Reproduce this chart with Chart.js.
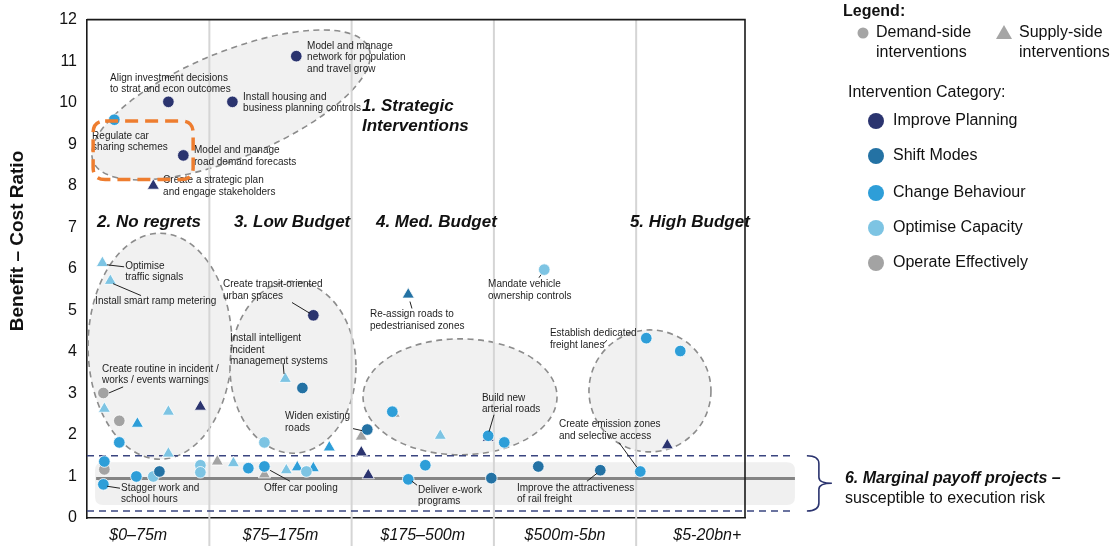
<!DOCTYPE html>
<html>
<head>
<meta charset="utf-8">
<script src="https://cdn.jsdelivr.net/npm/chart.js@4/dist/chart.umd.min.js"></script>
<style>
html,body{margin:0;padding:0;background:#fff;}
#wrap{width:1115px;height:546px;position:relative;}
</style>
</head>
<body>
<div id="wrap"><canvas id="c" width="1115" height="546"></canvas></div>
<script>
// ---------- DATA ----------
const costBuckets = ['$0–75m', '$75–175m', '$175–500m', '$500m-5bn', '$5-20bn+'];
const bucketCentres = [0.5, 1.5, 2.5, 3.5, 4.5];
const yTicks = [0,1,2,3,4,5,6,7,8,9,10,11,12];
const categories = ['Improve Planning', 'Shift Modes', 'Change Behaviour', 'Optimise Capacity', 'Operate Effectively'];

// [cost position, benefit-cost ratio]
const planningDemand = [[0.712,10.02],[1.162,10.02],[1.611,11.12],[0.817,8.73],[1.731,4.88]];
const planningSupply = [[0.606,8.0],[0.937,2.68],[2.068,1.58],[2.117,1.03],[2.96,1.93],[4.219,1.75]];
const shiftDemand = [[0.649,1.12],[1.654,3.13],[2.11,2.13],[2.982,0.96],[3.312,1.24],[3.748,1.15]];
const shiftSupply = [[2.398,5.38]];
const behaviourDemand = [[0.332,9.59],[0.367,1.82],[0.262,1.36],[0.255,0.81],[0.487,1.0],[1.274,1.2],[1.387,1.24],[2.286,2.56],[2.96,1.98],[3.073,1.82],[2.518,1.27],[2.398,0.93],[4.029,1.12],[4.071,4.33],[4.31,4.02]];
const behaviourSupply = [[0.494,2.27],[1.843,1.70],[1.618,1.22],[1.731,1.2]];
const capacityDemand = [[0.606,1.0],[0.937,1.27],[0.937,1.1],[1.387,1.82],[1.682,1.12],[3.354,5.98]];
const capacitySupply = [[0.248,6.14],[0.304,5.71],[0.262,2.63],[0.712,2.56],[0.712,1.55],[1.534,3.35],[1.169,1.32],[1.541,1.15],[2.623,1.98]];
const operateDemand = [[0.255,3.01],[0.367,2.34],[0.262,1.17]];
const operateSupply = [[1.056,1.36],[1.387,1.05],[2.068,1.96],[2.30,2.51]];

const baselineRatio = 0.95;
const marginalUpper = 1.5;
const marginalLower = 0.17;

// ---------- STYLE ----------
const FONT = "'Liberation Sans', Arial, Helvetica, sans-serif";
const catColors = ['#2B346F', '#2472A4', '#2E9ED8', '#7DC4E3', '#A3A3A3'];
const TXT = '#1e1e1e';

const demandSets = [planningDemand, shiftDemand, behaviourDemand, capacityDemand, operateDemand];
const supplySets = [planningSupply, shiftSupply, behaviourSupply, capacitySupply, operateSupply];

const datasets = [];
categories.forEach((c, i) => {
  datasets.push({
    label: c + ' (demand)',
    data: demandSets[i].map(p => ({x: p[0], y: p[1]})),
    pointStyle: 'circle', pointRadius: 5.8, pointBackgroundColor: catColors[i],
    pointBorderColor: '#ffffff', pointBorderWidth: 0.8, order: 1
  });
  datasets.push({
    label: c + ' (supply)',
    data: supplySets[i].map(p => ({x: p[0], y: p[1]})),
    pointStyle: 'triangle', pointRadius: 7, pointBackgroundColor: catColors[i],
    pointBorderColor: '#ffffff', pointBorderWidth: 0.8, order: 2
  });
});

// ---------- ANNOTATIONS (data coordinates) ----------
const ellipses = [
  {cx: 1.1525, cy: 9.945, rx: 149, ry: 53, rot: -22.4},
  {cx: 0.6535, cy: 4.136, rx: 72, ry: 113, rot: 0},
  {cx: 1.588, cy: 3.63, rx: 63, ry: 86, rot: 0},
  {cx: 2.762, cy: 2.917, rx: 97, ry: 58, rot: 0},
  {cx: 4.097, cy: 3.06, rx: 61, ry: 61, rot: 0}
];
const notes = [
  {x: 0.302, y: 10.59, t: ['Align investment decisions', 'to strat and econ outcomes']},
  {x: 1.687, y: 11.36, t: ['Model and manage', 'network for population', 'and travel grow']},
  {x: 1.237, y: 10.14, t: ['Install housing and', 'business planning controls']},
  {x: 0.176, y: 9.20, t: ['Regulate car', 'sharing schemes']},
  {x: 0.892, y: 8.845, t: ['Model and manage', 'road demand forecasts']},
  {x: 0.675, y: 8.128, t: ['Create a strategic plan', 'and engage stakeholders']},
  {x: 0.408, y: 6.072, t: ['Optimise', 'traffic signals']},
  {x: 0.197, y: 5.21, t: ['Install smart ramp metering']},
  {x: 0.246, y: 3.586, t: ['Create routine in incident /', 'works / events warnings']},
  {x: 0.379, y: 0.717, t: ['Stagger work and', 'school hours']},
  {x: 1.096, y: 5.618, t: ['Create transit-oriented', 'urban spaces']},
  {x: 1.145, y: 4.327, t: ['Install intelligent', 'incident', 'management systems']},
  {x: 1.532, y: 2.438, t: ['Widen existing', 'roads']},
  {x: 1.384, y: 0.717, t: ['Offer car pooling']},
  {x: 2.129, y: 4.90, t: ['Re-assign roads to', 'pedestrianised zones']},
  {x: 2.959, y: 5.618, t: ['Mandate vehicle', 'ownership controls']},
  {x: 3.394, y: 4.447, t: ['Establish dedicated', 'freight lanes']},
  {x: 2.916, y: 2.893, t: ['Build new', 'arterial roads']},
  {x: 2.467, y: 0.669, t: ['Deliver e-work', 'programs']},
  {x: 3.162, y: 0.717, t: ['Improve the attractiveness', 'of rail freight']},
  {x: 3.457, y: 2.247, t: ['Create emission zones', 'and selective access']}
];
const leaders = [
  [0.281,6.096,0.401,6.048],[0.323,5.642,0.520,5.355],[0.295,3.012,0.394,3.156],
  [0.281,0.765,0.372,0.717],[1.581,5.188,1.708,4.925],[1.518,3.729,1.525,3.466],
  [2.010,2.152,2.073,2.104],[1.427,1.148,1.567,0.885],[2.410,5.212,2.424,5.044],
  [3.331,5.857,3.317,5.785],[3.767,4.184,3.795,4.279],[3.001,2.486,2.966,2.080],
  [2.424,0.885,2.460,0.789],[3.654,0.885,3.725,1.076],[3.879,1.817,4.006,1.219]
];
const groupLabels = [
  {x: 2.073, y: 9.921, t: '1. Strategic'},
  {x: 2.073, y: 9.419, t: 'Interventions'},
  {x: 0.211, y: 7.124, t: '2. No regrets'},
  {x: 1.174, y: 7.124, t: '3. Low Budget'},
  {x: 2.171, y: 7.124, t: '4. Med. Budget'},
  {x: 3.956, y: 7.124, t: '5. High Budget'}
];

function roundRect(ctx, x, y, w, h, r) {
  ctx.beginPath();
  ctx.moveTo(x + r, y);
  ctx.lineTo(x + w - r, y); ctx.quadraticCurveTo(x + w, y, x + w, y + r);
  ctx.lineTo(x + w, y + h - r); ctx.quadraticCurveTo(x + w, y + h, x + w - r, y + h);
  ctx.lineTo(x + r, y + h); ctx.quadraticCurveTo(x, y + h, x, y + h - r);
  ctx.lineTo(x, y + r); ctx.quadraticCurveTo(x, y, x + r, y);
  ctx.closePath();
}

const deco = {
  id: 'deco',
  beforeDatasetsDraw(chart) {
    const {ctx, scales: {x, y}, chartArea: ca} = chart;
    const X = v => x.getPixelForValue(v), Y = v => y.getPixelForValue(v);
    ctx.save();
    // marginal band
    ctx.fillStyle = '#f0f0f0';
    roundRect(ctx, X(0.197), Y(1.34), X(5.116) - X(0.197), Y(0.31) - Y(1.34), 8);
    ctx.fill();
    // ellipses
    ellipses.forEach(e => {
      ctx.beginPath();
      ctx.ellipse(X(e.cx), Y(e.cy), e.rx, e.ry, e.rot * Math.PI / 180, 0, Math.PI * 2);
      ctx.fillStyle = '#f1f1f1';
      ctx.fill();
      ctx.setLineDash([6, 4.5]);
      ctx.strokeStyle = '#8c8c8c';
      ctx.lineWidth = 1.6;
      ctx.stroke();
    });
    ctx.setLineDash([]);
    // bucket separators
    ctx.strokeStyle = '#d5d5d5';
    ctx.lineWidth = 2;
    [1, 2, 3, 4].forEach(v => {
      ctx.beginPath(); ctx.moveTo(X(v), ca.top); ctx.lineTo(X(v), chart.height); ctx.stroke();
    });
    // baseline
    ctx.strokeStyle = '#848484';
    ctx.lineWidth = 3;
    ctx.beginPath(); ctx.moveTo(X(0.204), Y(baselineRatio)); ctx.lineTo(X(5.116), Y(baselineRatio)); ctx.stroke();
    // marginal dashed bounds
    ctx.strokeStyle = '#3A4580';
    ctx.lineWidth = 1.5;
    ctx.setLineDash([7, 5]);
    [marginalUpper, marginalLower].forEach(v => {
      ctx.beginPath(); ctx.moveTo(ca.left, Y(v)); ctx.lineTo(X(5.116), Y(v)); ctx.stroke();
    });
    ctx.setLineDash([]);
    // top and right frame
    ctx.strokeStyle = '#1a1a1a';
    ctx.lineWidth = 1.6;
    ctx.beginPath(); ctx.moveTo(ca.left, ca.top); ctx.lineTo(ca.right, ca.top); ctx.lineTo(ca.right, ca.bottom); ctx.stroke();
    ctx.restore();
  },
  afterDatasetsDraw(chart) {
    const {ctx, scales: {x, y}, chartArea: ca} = chart;
    const X = v => x.getPixelForValue(v), Y = v => y.getPixelForValue(v);
    ctx.save();
    // leader lines
    ctx.strokeStyle = '#222';
    ctx.lineWidth = 1;
    leaders.forEach(l => {
      ctx.beginPath(); ctx.moveTo(X(l[0]), Y(l[1])); ctx.lineTo(X(l[2]), Y(l[3])); ctx.stroke();
    });
    // note texts
    ctx.fillStyle = TXT;
    ctx.font = '10px ' + FONT;
    ctx.textBaseline = 'middle';
    ctx.textAlign = 'left';
    notes.forEach(n => {
      n.t.forEach((line, i) => ctx.fillText(line, X(n.x), Y(n.y) + i * 11.5));
    });
    // group labels
    ctx.font = 'italic bold 17px ' + FONT;
    ctx.fillStyle = '#111';
    groupLabels.forEach(g => ctx.fillText(g.t, X(g.x), Y(g.y)));
    // orange highlight
    ctx.strokeStyle = '#EE7D2F';
    ctx.lineWidth = 3.5;
    ctx.setLineDash([13, 7]);
    roundRect(ctx, X(0.183), Y(9.56), X(0.886) - X(0.183), Y(8.15) - Y(9.56), 12);
    ctx.stroke();
    ctx.setLineDash([]);
    // bracket
    const bx = X(5.2), bt = Y(marginalUpper), bb = Y(marginalLower), bm = (bt + bb) / 2;
    ctx.strokeStyle = '#2B346F';
    ctx.lineWidth = 1.6;
    ctx.beginPath();
    ctx.moveTo(bx, bt);
    ctx.quadraticCurveTo(bx + 12, bt, bx + 12, bt + 8);
    ctx.lineTo(bx + 12, bm - 6);
    ctx.quadraticCurveTo(bx + 12, bm, bx + 25, bm);
    ctx.quadraticCurveTo(bx + 12, bm, bx + 12, bm + 6);
    ctx.lineTo(bx + 12, bb - 8);
    ctx.quadraticCurveTo(bx + 12, bb, bx, bb);
    ctx.stroke();
    ctx.fillStyle = '#111';
    ctx.font = 'italic bold 16px ' + FONT;
    ctx.fillText('6. Marginal payoff projects –', bx + 38, bm - 5);
    ctx.font = '16px ' + FONT;
    ctx.fillText('susceptible to execution risk', bx + 38, bm + 15);
    // y axis title
    ctx.save();
    ctx.translate(18, 241);
    ctx.rotate(-Math.PI / 2);
    ctx.textAlign = 'center';
    ctx.font = 'bold 19px ' + FONT;
    ctx.fillText('Benefit – Cost Ratio', 0, 0);
    ctx.restore();
    // legend
    const lx = 843;
    ctx.fillStyle = '#111';
    ctx.font = 'bold 16px ' + FONT;
    ctx.fillText('Legend:', lx, 12);
    ctx.fillStyle = '#A5A5A5';
    ctx.beginPath(); ctx.arc(863, 33, 5.5, 0, Math.PI * 2); ctx.fill();
    ctx.beginPath(); ctx.moveTo(1004, 25); ctx.lineTo(1012, 39); ctx.lineTo(996, 39); ctx.closePath(); ctx.fill();
    ctx.fillStyle = '#111';
    ctx.font = '16px ' + FONT;
    ctx.fillText('Demand-side', 876, 33);
    ctx.fillText('interventions', 876, 53);
    ctx.fillText('Supply-side', 1019, 33);
    ctx.fillText('interventions', 1019, 53);
    ctx.fillText('Intervention Category:', 848, 93);
    const ly = [121, 156, 193, 228, 263];
    categories.forEach((c, i) => {
      ctx.fillStyle = catColors[i];
      ctx.beginPath(); ctx.arc(876, ly[i], 8, 0, Math.PI * 2); ctx.fill();
      ctx.fillStyle = '#111';
      ctx.fillText(c, 893, ly[i]);
    });
    ctx.restore();
  }
};

new Chart(document.getElementById('c'), {
  type: 'scatter',
  data: {datasets},
  options: {
    responsive: false,
    animation: false,
    events: [],
    devicePixelRatio: 1,
    layout: {padding: {left: 0, top: 16, right: 370, bottom: 0}},
    plugins: {legend: {display: false}, tooltip: {enabled: false}},
    scales: {
      x: {
        type: 'linear', min: 0.14, max: 4.765,
        afterBuildTicks: s => { s.ticks = bucketCentres.map(v => ({value: v})); },
        afterFit: s => { s.height = 28; },
        ticks: {callback: (v, i) => costBuckets[i], font: {family: FONT, size: 16, style: 'italic'}, color: '#111', padding: 8, maxRotation: 0, autoSkip: false},
        grid: {display: false, drawTicks: false},
        border: {display: true, color: '#1a1a1a', width: 1.6}
      },
      y: {
        min: 0, max: 12,
        afterBuildTicks: s => { s.ticks = yTicks.map(v => ({value: v})); },
        afterFit: s => { s.width = 87; },
        ticks: {font: {family: FONT, size: 16}, color: '#111', padding: 10},
        grid: {display: false, drawTicks: false},
        border: {display: true, color: '#1a1a1a', width: 1.6}
      }
    }
  },
  plugins: [deco]
});
</script>
</body>
</html>
